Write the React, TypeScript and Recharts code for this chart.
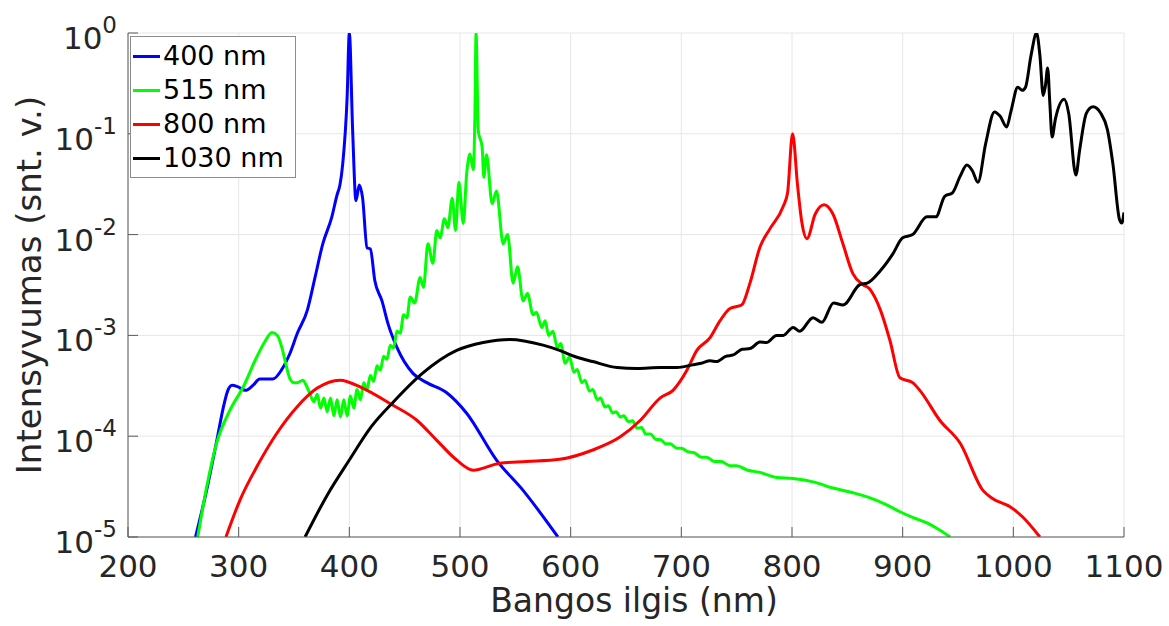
import React from 'react'
import { LineChart, Line, XAxis, YAxis, CartesianGrid, Legend } from 'recharts'

// wavelength (nm), intensity (a.u.)
const blue400: [number, number][] = [
  [261, 1e-5], [271, 2.9e-5], [281, 1e-4], [286, 1.9e-4], [290, 2.8e-4], [294, 3.2e-4],
  [299, 3.1e-4], [306, 2.85e-4], [313, 3.2e-4], [319, 3.7e-4], [331, 3.7e-4], [339, 4.6e-4],
  [346, 6.5e-4], [353, 1.05e-3], [362, 1.77e-3], [369, 3.76e-3], [376, 8.1e-3], [384, 1.47e-2],
  [389, 2.5e-2], [391.5, 3.1e-2], [394, 5e-2], [398, 0.23], [400, 1], [403, 0.107],
  [406, 0.0217], [409, 0.031], [412, 0.023], [416, 7.4e-3], [419, 7.2e-3], [423, 3.5e-3],
  [429.5, 2.2e-3], [435, 1.3e-3], [443, 7.6e-4], [457.5, 4.2e-4], [470, 3.4e-4], [488, 2.7e-4],
  [506, 1.69e-4], [533, 5.8e-5], [557, 2.9e-5], [588.5, 1e-5],
]

const green515: [number, number][] = [
  [263, 1e-5], [271, 3.1e-5], [280, 8.5e-5], [292, 1.8e-4], [304, 3.06e-4], [316, 6.0e-4],
  [324, 8.8e-4], [330, 1.07e-3], [335, 1.0e-3], [339, 7.6e-4], [343, 5.0e-4], [346, 3.8e-4],
  [350, 3.4e-4], [353, 3.4e-4], [358, 3.6e-4], [361, 3.2e-4], [364, 2.7e-4], [368, 2.2e-4],
  [371, 2.6e-4], [374, 1.9e-4], [377, 2.4e-4], [380, 1.75e-4], [383, 2.4e-4], [386, 1.6e-4],
  [389, 2.3e-4], [392, 1.55e-4], [395, 2.3e-4], [398, 1.6e-4], [401, 2.5e-4], [404, 1.9e-4],
  [407, 2.9e-4], [410, 2.3e-4], [413, 3.4e-4], [416, 2.9e-4], [419, 4.0e-4], [422, 3.5e-4],
  [425, 5.0e-4], [428, 4.5e-4], [431, 6.2e-4], [434, 5.8e-4], [437, 8e-4], [440, 7.5e-4],
  [443, 1.1e-3], [446, 1.05e-3], [449, 1.6e-3], [452, 1.5e-3], [455, 2.4e-3], [459, 2.1e-3],
  [464, 3.76e-3], [467, 3.0e-3], [471, 8.1e-3], [475.5, 5.2e-3], [479, 1.1e-2], [482, 9.3e-3],
  [486, 1.44e-2], [489, 1.17e-2], [493, 2.3e-2], [496, 1.1e-2], [499, 3.3e-2], [503, 1.29e-2],
  [506, 0.04], [509, 0.063], [512, 0.044], [513.5, 0.16], [514.5, 1], [516.5, 0.107],
  [520, 0.074], [521.5, 0.037], [524, 0.062], [529, 0.0203], [533, 0.027], [539, 8.1e-3],
  [543, 1.0e-2], [548, 3.3e-3], [552, 4.8e-3], [557, 2.2e-3], [561, 2.6e-3], [566, 1.6e-3],
  [569, 1.7e-3], [574, 1.2e-3], [577, 1.4e-3], [580, 1.0e-3], [584, 1.1e-3], [588, 7.5e-4],
  [591, 8.3e-4], [595, 5.3e-4], [599, 6.1e-4], [603, 4.3e-4], [606, 4.6e-4], [610, 3.4e-4],
  [613, 3.6e-4], [617, 2.8e-4], [620, 2.9e-4], [624, 2.3e-4], [627, 2.4e-4], [631, 1.95e-4],
  [634, 2.0e-4], [638, 1.7e-4], [641, 1.75e-4], [645, 1.55e-4], [648, 1.6e-4], [652, 1.4e-4],
  [656, 1.42e-4], [660, 1.2e-4], [664, 1.22e-4], [668, 1.05e-4], [672, 1.05e-4], [677, 9.3e-5],
  [681, 9.3e-5], [686, 8.4e-5], [690, 8.4e-5], [696, 7.6e-5], [700, 7.6e-5], [706, 7.0e-5],
  [711, 6.9e-5], [718, 6.2e-5], [723, 6.2e-5], [730, 5.6e-5], [736, 5.6e-5], [744, 5.1e-5],
  [750, 5.1e-5], [760, 4.6e-5], [770, 4.4e-5], [786, 3.9e-5], [801, 3.8e-5], [820, 3.5e-5],
  [837, 3.06e-5], [855, 2.75e-5], [868, 2.5e-5], [885, 2.1e-5], [898, 1.77e-5], [910, 1.55e-5],
  [922, 1.38e-5], [933, 1.18e-5], [943, 1e-5],
]

const red800: [number, number][] = [
  [288.5, 1e-5], [301, 2.3e-5], [316.5, 5e-5], [334.5, 1.07e-4], [352.5, 1.94e-4], [371, 3.0e-4],
  [391.5, 3.6e-4], [412, 3.0e-4], [437, 2.1e-4], [461, 1.44e-4], [479, 9.1e-5], [497, 5.8e-5],
  [512, 4.6e-5], [536, 5.4e-5], [560, 5.6e-5], [590, 5.9e-5], [620, 7.3e-5], [644.5, 9.8e-5],
  [663, 1.44e-4], [681, 2.4e-4], [692.5, 2.85e-4], [705, 4.5e-4], [714, 7.1e-4], [726, 9.5e-4],
  [735, 1.4e-3], [744, 1.85e-3], [754.5, 2.0e-3], [762, 3.3e-3], [771, 7.5e-3], [780, 1.14e-2],
  [792, 1.9e-2], [796, 2.6e-2], [800.5, 0.1], [805, 0.031], [809, 1.3e-2], [813.5, 9.1e-3],
  [821, 1.6e-2], [829, 1.98e-2], [837, 1.6e-2], [846, 8.1e-3], [855, 4.1e-3], [864, 3.2e-3],
  [870, 2.9e-3], [880, 1.77e-3], [888.5, 8.9e-4], [897.5, 3.8e-4], [909, 3.4e-4], [915.5, 2.85e-4],
  [933.5, 1.44e-4], [952, 8.5e-5], [972.5, 2.9e-5], [981.5, 2.4e-5], [997, 2.0e-5], [1008.5, 1.58e-5],
  [1024, 1e-5],
]

const black1030: [number, number][] = [
  [360, 1e-5], [380, 2.6e-5], [400, 5.8e-5], [420, 1.25e-4], [440, 2.2e-4], [466, 4.2e-4],
  [497, 7.1e-4], [521, 8.5e-4], [545, 9.1e-4], [575, 8e-4], [590, 7.1e-4], [605, 6.1e-4],
  [620, 5.5e-4], [642, 4.8e-4], [660, 4.7e-4], [681, 4.8e-4],
  [696, 4.8e-4], [710, 5.1e-4], [718, 5.3e-4], [726, 5.6e-4], [732, 5.5e-4], [740, 6.2e-4],
  [747, 6.4e-4], [755, 7.3e-4], [762, 7.4e-4], [771, 8.6e-4], [777, 8.5e-4], [786, 1.0e-3],
  [792, 1.0e-3], [801, 1.2e-3], [807, 1.1e-3], [819, 1.5e-3], [827, 1.35e-3], [837.5, 2.1e-3],
  [846, 2.0e-3], [861.5, 3.2e-3], [868, 3.3e-3], [880, 4.4e-3], [891, 6.4e-3], [900, 9.3e-3],
  [909, 1.0e-2], [922, 1.5e-2], [930, 1.5e-2], [938, 2.4e-2], [945, 2.6e-2], [952, 3.8e-2],
  [958, 4.9e-2], [963, 4.3e-2], [968, 3.3e-2], [975, 8e-2], [983, 0.165], [988, 0.15],
  [994, 0.117], [998, 0.17], [1004, 0.29], [1008, 0.27], [1011, 0.29], [1016, 0.6],
  [1021, 1], [1024, 0.6], [1027, 0.24], [1029, 0.3], [1031, 0.45], [1033, 0.2],
  [1035, 0.093], [1038, 0.14], [1046, 0.22], [1050, 0.16], [1056.5, 0.039], [1060, 0.07],
  [1066, 0.16], [1072, 0.185], [1079, 0.16], [1085, 0.11], [1090, 0.05], [1096, 0.014],
  [1098, 0.013], [1100, 0.0166],
]

const xTicks = [200, 300, 400, 500, 600, 700, 800, 900, 1000, 1100]
const yTicks = [1e-5, 1e-4, 1e-3, 1e-2, 1e-1, 1]

const series = [
  { name: '400 nm', color: '#0000ff', points: blue400 },
  { name: '515 nm', color: '#00ff00', points: green515 },
  { name: '800 nm', color: '#ff0000', points: red800 },
  { name: '1030 nm', color: '#000000', points: black1030 },
]

const FONT = '"DejaVu Sans", sans-serif'
const AXIS = '#5a5a5a'
const TEXT = '#262626'

const toRows = (pts: [number, number][]) => pts.map(([x, v]) => ({ x, v }))

function BottomTick({ x, y, payload }: any) {
  return (
    <g>
      <line x1={x} y1={y} x2={x} y2={y - 10} stroke={AXIS} />
      <text x={x} y={y + 40} textAnchor="middle" fontSize={31} fill={TEXT} fontFamily={FONT}>
        {payload.value}
      </text>
    </g>
  )
}

function TopTick({ x, y }: any) {
  return <line x1={x} y1={y} x2={x} y2={y + 10} stroke={AXIS} />
}

function LeftTick({ x, y, payload }: any) {
  const exp = Math.round(Math.log10(payload.value))
  return (
    <g>
      <line x1={x} y1={y} x2={x + 10} y2={y} stroke={AXIS} />
      <text x={x - 11} y={y + 16} textAnchor="end" fontSize={31} fill={TEXT} fontFamily={FONT}>
        10
        <tspan dy={-16} fontSize={23}>
          {exp}
        </tspan>
      </text>
    </g>
  )
}

function RightTick({ x, y }: any) {
  return <line x1={x} y1={y} x2={x - 10} y2={y} stroke={AXIS} />
}

function LegendBox() {
  return (
    <div
      style={{
        border: '1px solid #8c8c8c',
        background: '#fff',
        width: 164,
        padding: '2px 0',
        fontFamily: FONT,
        fontSize: 27,
        color: '#000',
      }}
    >
      {series.map((s) => (
        <div key={s.name} style={{ display: 'flex', alignItems: 'center', height: 34 }}>
          <div style={{ width: 27, height: 3, background: s.color, marginLeft: 2, marginRight: 3 }} />
          <span style={{ lineHeight: '34px' }}>{s.name}</span>
        </div>
      ))}
    </div>
  )
}

export default function App() {
  return (
    <div style={{ position: 'absolute', left: 0, top: 0, width: 1169, height: 626, background: '#fff' }}>
      <LineChart width={1169} height={626} margin={{ top: 33, right: 45, left: 0, bottom: 0 }}>
        <CartesianGrid xAxisId="b" yAxisId="l" stroke="#e6e6e6" strokeWidth={1} />
        <XAxis
          xAxisId="b"
          type="number"
          dataKey="x"
          domain={[200, 1100]}
          ticks={xTicks}
          interval={0}
          allowDataOverflow
          height={89}
          tickSize={0}
          tickMargin={0}
          tick={<BottomTick />}
          axisLine={{ stroke: AXIS }}
          tickLine={false}
        />
        <XAxis
          xAxisId="t"
          orientation="top"
          type="number"
          dataKey="x"
          domain={[200, 1100]}
          ticks={xTicks}
          interval={0}
          allowDataOverflow
          height={0}
          tickSize={0}
          tickMargin={0}
          tick={<TopTick />}
          axisLine={{ stroke: AXIS }}
          tickLine={false}
        />
        <YAxis
          yAxisId="l"
          scale="log"
          domain={[1e-5, 1]}
          ticks={yTicks}
          interval={0}
          allowDataOverflow
          width={128}
          tickSize={0}
          tickMargin={0}
          tick={<LeftTick />}
          axisLine={{ stroke: AXIS }}
          tickLine={false}
        />
        <YAxis
          yAxisId="r"
          orientation="right"
          scale="log"
          domain={[1e-5, 1]}
          ticks={yTicks}
          interval={0}
          allowDataOverflow
          width={0}
          tickSize={0}
          tickMargin={0}
          tick={<RightTick />}
          axisLine={{ stroke: AXIS }}
          tickLine={false}
        />
        <Legend
          layout="horizontal"
          verticalAlign="middle"
          align="center"
          content={() => <LegendBox />}
          wrapperStyle={{ left: 130, top: 36, width: 'auto', height: 'auto' }}
        />
        {series.map((s) => (
          <Line
            key={s.name}
            xAxisId="b"
            yAxisId="l"
            data={toRows(s.points)}
            dataKey="v"
            name={s.name}
            type="monotone"
            stroke={s.color}
            strokeWidth={3}
            dot={false}
            isAnimationActive={false}
          />
        ))}
      </LineChart>
      <div
        style={{
          position: 'absolute',
          left: 0,
          top: 0,
          width: 1169,
          height: 626,
          pointerEvents: 'none',
        }}
      >
        <svg width={1169} height={626}>
          <text
            x={634}
            y={612}
            textAnchor="middle"
            fontSize={33}
            fill={TEXT}
            fontFamily={FONT}
          >
            Bangos ilgis (nm)
          </text>
          <text
            x={0}
            y={0}
            transform="translate(41 285) rotate(-90)"
            textAnchor="middle"
            fontSize={34}
            fill={TEXT}
            fontFamily={FONT}
          >
            Intensyvumas (snt. v.)
          </text>
        </svg>
      </div>
    </div>
  )
}
